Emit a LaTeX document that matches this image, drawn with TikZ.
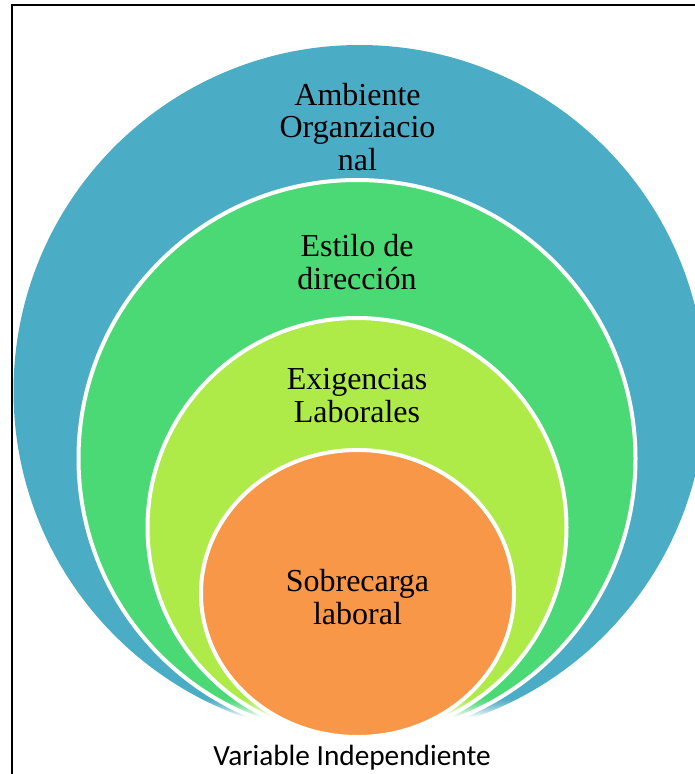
\documentclass[tikz,border=0pt]{standalone}
\usepackage{fontspec}
\setmainfont{Liberation Serif}
\newfontfamily\captionsans{Carlito}
\definecolor{ringblue}{RGB}{75,172,198}
\definecolor{ringgreen}{RGB}{74,217,117}
\definecolor{ringlime}{RGB}{174,235,72}
\definecolor{ringorange}{RGB}{247,151,71}
\tikzset{
  ringedge/.style={draw=white, line width=4},
  % anchor=base sits on the baseline of the last line of a label
  ringlabel/.style={font=\fontsize{32}{32.5}\selectfont, align=center, anchor=base, inner sep=0},
  captionlabel/.style={font=\captionsans\fontsize{29.3}{30}\selectfont, anchor=base, inner sep=0}
}
\begin{document}
\begin{tikzpicture}[x=1pt,y=-1pt]
\useasboundingbox (0,0) rectangle (695,774);
\begin{scope}
  \clip (0,0) rectangle (695,774);
  % stacked rings, all resting on the same bottom point
  \fill[ringblue] (359.5,391) circle[radius=346];
  \filldraw[fill=ringgreen, ringedge] (357,458.5) circle[radius=278.5];
  \filldraw[fill=ringlime, ringedge] (357,527.5) circle[radius=209.5];
  % the tails of the outer rings fade out towards the bottom
  \foreach \i in {0,...,20} {
    \pgfmathsetmacro{\op}{(\i/20)^1.5}
    \fill[white, opacity=\op] (120,697+\i) rectangle (600,698+\i);
  }
  \fill[white] (120,717.5) rectangle (600,745);
  \filldraw[fill=ringorange, ringedge] (357.5,593.5) ellipse[x radius=156.5, y radius=143.5];
  % outer frame
  \draw[line width=2] (11.5,790) |- (710,5);
\end{scope}
\node[ringlabel] (ambiente) at (357.5,170) {Ambiente\\Organziacio\\nal};
\node[ringlabel] (estilo) at (357,289) {Estilo de\\dirección};
\node[ringlabel] (exigencias) at (357,422) {Exigencias\\Laborales};
\node[ringlabel] (sobrecarga) at (357.5,624) {Sobrecarga\\laboral};
\node[captionlabel] (variable) at (352,765) {Variable Independiente};
\end{tikzpicture}
\end{document}
